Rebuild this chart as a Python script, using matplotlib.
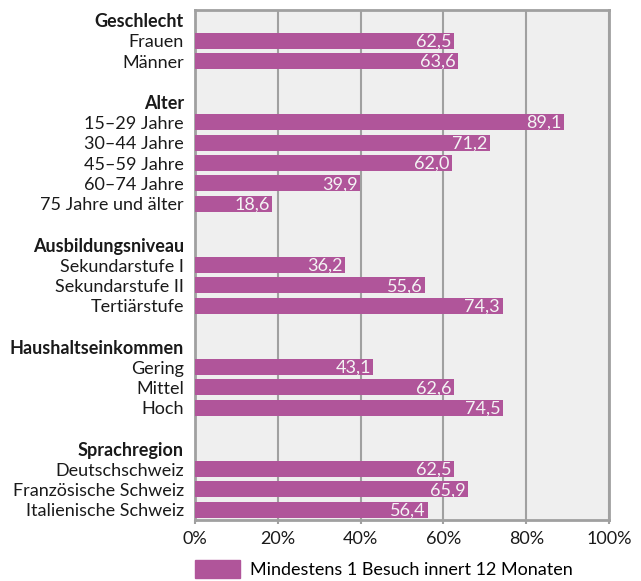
import matplotlib
matplotlib.use("Agg")
import matplotlib.pyplot as plt
from matplotlib.patches import Patch

plt.rcParams['font.family'] = ['Lato', 'DejaVu Sans']

groups = ["Geschlecht", "Alter", "Ausbildungsniveau", "Haushaltseinkommen", "Sprachregion"]
categories = [
    ["Frauen", "Männer"],
    ["15–29 Jahre", "30–44 Jahre", "45–59 Jahre", "60–74 Jahre", "75 Jahre und älter"],
    ["Sekundarstufe I", "Sekundarstufe II", "Tertiärstufe"],
    ["Gering", "Mittel", "Hoch"],
    ["Deutschschweiz", "Französische Schweiz", "Italienische Schweiz"],
]
values = [
    [62.5, 63.6],
    [89.1, 71.2, 62.0, 39.9, 18.6],
    [36.2, 55.6, 74.3],
    [43.1, 62.6, 74.5],
    [62.5, 65.9, 56.4],
]
series_name = "Mindestens 1 Besuch innert 12 Monaten"
xticks = [0, 20, 40, 60, 80, 100]

bar_color = "#b0559a"
FS = 13

fig = plt.figure(figsize=(6.41, 5.81), dpi=100)
ax = fig.add_axes([195/641, 61/581, 414/641, 510/581])
ax.set_facecolor("#efefef")

rows = []  # (label, value or None, bold)
for gi, (g, cats, vals) in enumerate(zip(groups, categories, values)):
    if gi > 0:
        rows.append(("", None, False))
    rows.append((g, None, True))
    for c, v in zip(cats, vals):
        rows.append((c, v, False))

n = len(rows)
ypos = list(range(n))
for y, (lab, v, bold) in zip(ypos, rows):
    if v is not None:
        ax.barh(y, v, height=0.78, color=bar_color, zorder=3)
        ax.text(v - 0.6, y + 0.04, f"{v:.1f}".replace(".", ","), ha="right", va="center",
                color="#f4f4f4", fontsize=FS, zorder=4)

ax.set_ylim(n - 0.5, -0.5)
ax.set_xlim(0, 100)
ax.set_yticks(ypos)
ax.set_yticklabels([r[0] for r in rows], fontsize=FS)
for t, r in zip(ax.get_yticklabels(), rows):
    if r[2]:
        t.set_fontweight("bold")
ax.tick_params(axis="y", length=0, pad=8, colors="#1a1a1a")
ax.set_xticks(xticks)
ax.set_xticklabels([f"{x}%" for x in xticks], fontsize=FS)
ax.tick_params(axis="x", length=3, width=1.5, pad=5, colors="#a0a0a0", labelcolor="#1a1a1a")
ax.grid(axis="x", color="#a0a0a0", linewidth=1.5, zorder=1)
ax.set_axisbelow(True)
for s in ax.spines.values():
    s.set_color("#a0a0a0")
    s.set_linewidth(2)

fig.legend(handles=[Patch(color=bar_color, label=series_name)],
           loc="center left", bbox_to_anchor=(195/641, 12/581), frameon=False,
           borderpad=0, borderaxespad=0,
           fontsize=FS, handlelength=2.5, handleheight=1.15, handletextpad=0.55)

fig.savefig("out.png", dpi=100)
